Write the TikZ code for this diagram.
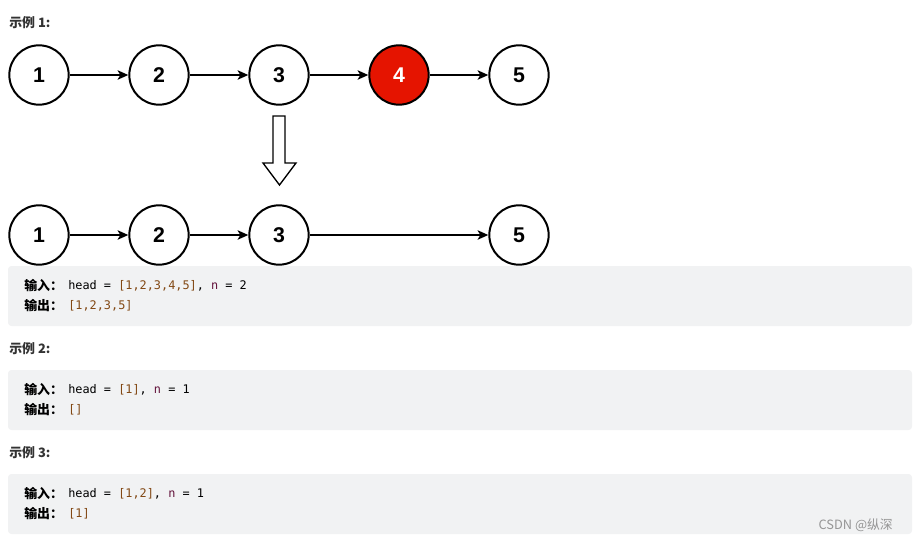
\documentclass[tikz,border=0pt]{standalone}
\usepackage{fontspec}
\setmainfont{Liberation Sans}
\newfontfamily\cjk{Noto Sans CJK SC}
\newfontfamily\mono{DejaVu Sans Mono}
\usetikzlibrary{arrows.meta}
\definecolor{boxgray}{RGB}{241,242,243}
\definecolor{nodered}{RGB}{229,20,0}
\definecolor{codebrown}{RGB}{130,72,20}
\definecolor{codevar}{RGB}{100,20,60}
\definecolor{headgray}{RGB}{51,51,51}
\definecolor{wmgray}{RGB}{150,150,150}
\tikzset{
  lnode/.style={circle, draw=black, line width=1.5pt, minimum size=44.5pt, inner sep=0pt, fill=white, font=\fontsize{16}{16}\selectfont\bfseries},
  rednode/.style={lnode, fill=nodered, text=white},
  link/.style={line width=1.5pt, -{Stealth[length=8pt,width=7pt,inset=2pt]}},
  codebox/.style={fill=boxgray, rounded corners=2.5pt, draw=none},
  heading/.style={anchor=base west, inner sep=0pt, text=headgray, font=\cjk\bfseries\fontsize{9.7}{10}\selectfont},
  lbl/.style={anchor=base west, inner sep=0pt, text=black, font=\cjk\bfseries\fontsize{9.7}{10}\selectfont},
  code/.style={anchor=base west, inner sep=0pt, text=black, font=\mono\fontsize{8.9}{10}\selectfont},
}
\begin{document}
\begin{tikzpicture}[x=0.75pt, y=-0.75pt]
\useasboundingbox (0,0) rectangle (915,540);
% headings
\node[heading] (h1) at (9,27) {示例 1:};
\node[heading] (h2) at (9,353) {示例 2:};
\node[heading] (h3) at (9,457) {示例 3:};
% row 1
\node[lnode] (a1) at (39,75) {1};
\node[lnode] (a2) at (159,75) {2};
\node[lnode] (a3) at (279,75) {3};
\node[rednode] (a4) at (399,75) {4};
\node[lnode] (a5) at (519,75) {5};
\draw[link] (a1) -- (a2);
\draw[link] (a2) -- (a3);
\draw[link] (a3) -- (a4);
\draw[link] (a4) -- (a5);
% block arrow
\draw[line width=1pt, fill=white, line join=miter]
  (273,116) -- (285,116) -- (285,163) -- (296,163) -- (279.5,185) -- (263,163) -- (273,163) -- cycle;
% row 2
\node[lnode] (b1) at (39,235) {1};
\node[lnode] (b2) at (159,235) {2};
\node[lnode] (b3) at (279,235) {3};
\node[lnode] (b5) at (519,235) {5};
\draw[link] (b1) -- (b2);
\draw[link] (b2) -- (b3);
\draw[link] (b3) -- (b5);
% code boxes
\fill[codebox] (8,266) rectangle (912,326);
\fill[codebox] (8,370) rectangle (912,430);
\fill[codebox] (8,474) rectangle (912,534);
% example 1 text
\node[lbl] (i1) at (24,290) {输入：};
\node[code] (c1) at (68,289.5) {head = \textcolor{codebrown}{[1,2,3,4,5]}, \textcolor{codevar}{n} = 2};
\node[lbl] (o1) at (24,310) {输出：};
\node[code] (d1) at (68,309.5) {\textcolor{codebrown}{[1,2,3,5]}};
% example 2 text
\node[lbl] (i2) at (24,394) {输入：};
\node[code] (c2) at (68,393.5) {head = \textcolor{codebrown}{[1]}, \textcolor{codevar}{n} = 1};
\node[lbl] (o2) at (24,414) {输出：};
\node[code] (d2) at (68,413.5) {\textcolor{codebrown}{[]}};
% example 3 text
\node[lbl] (i3) at (24,498) {输入：};
\node[code] (c3) at (68,497.5) {head = \textcolor{codebrown}{[1,2]}, \textcolor{codevar}{n} = 1};
\node[lbl] (o3) at (24,518) {输出：};
\node[code] (d3) at (68,517.5) {\textcolor{codebrown}{[1]}};
% watermark
\node[anchor=base east, inner sep=0pt, text=wmgray, font=\cjk\fontsize{9.6}{10}\selectfont] (wm) at (893,529) {CSDN @纵深};
\end{tikzpicture}
\end{document}
